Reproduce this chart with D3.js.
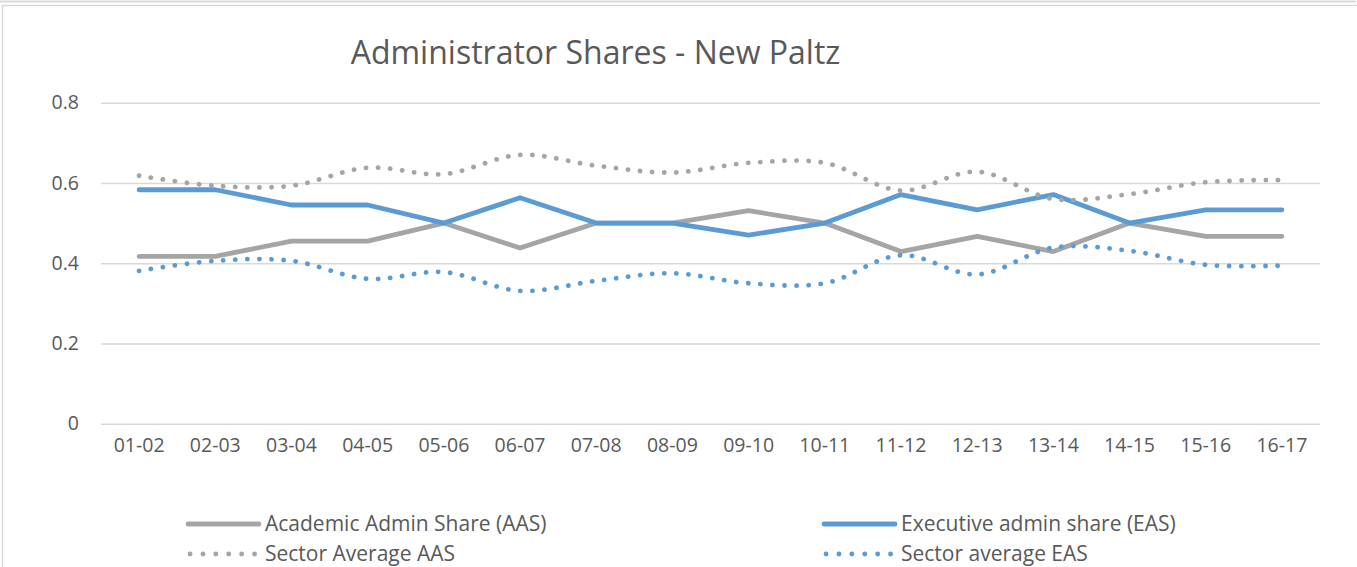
<!DOCTYPE html>
<html>
<head>
<meta charset="utf-8">
<script src="https://cdn.jsdelivr.net/npm/d3@7"></script>
<style>
    body { margin: 0; background: #fff; }
    svg { display: block; font-family: "Open Sans", "Noto Sans", sans-serif; }
    .tick text { fill: #595959; }
</style>
</head>
<body>
<svg id="chart"></svg>
<script>
// Academic years on the x axis
const years = ['01-02', '02-03', '03-04', '04-05', '05-06', '06-07', '07-08', '08-09',
    '09-10', '10-11', '11-12', '12-13', '13-14', '14-15', '15-16', '16-17'];

// Series values
const academicShare = [0.417, 0.417, 0.455, 0.455, 0.5, 0.438, 0.5, 0.5,
    0.531, 0.5, 0.429, 0.467, 0.429, 0.5, 0.467, 0.467];
const executiveShare = [0.583, 0.583, 0.545, 0.545, 0.5, 0.563, 0.5, 0.5,
    0.47, 0.5, 0.571, 0.533, 0.571, 0.5, 0.533, 0.533];
const sectorAvgAAS = [0.618, 0.593, 0.593, 0.638, 0.622, 0.67, 0.643, 0.626,
    0.65, 0.65, 0.581, 0.628, 0.56, 0.572, 0.602, 0.607];
const sectorAvgEAS = [0.381, 0.406, 0.406, 0.361, 0.378, 0.331, 0.356, 0.375,
    0.35, 0.35, 0.42, 0.372, 0.439, 0.431, 0.396, 0.394];

const yTicks = [0, 0.2, 0.4, 0.6, 0.8];

const series = [
    { name: 'Academic Admin Share (AAS)', values: academicShare, color: '#A5A5A5', dotted: false },
    { name: 'Executive admin share (EAS)', values: executiveShare, color: '#5B9BD5', dotted: false },
    { name: 'Sector Average AAS', values: sectorAvgAAS, color: '#A5A5A5', dotted: true },
    { name: 'Sector average EAS', values: sectorAvgEAS, color: '#5B9BD5', dotted: true }
];

const width = 1357, height = 567;
const plot = { left: 101, right: 1320, top: 102.7, bottom: 423.7 };

const svg = d3.select('#chart')
    .attr('width', width)
    .attr('height', height);

// frames of the chart object
svg.append('line')
    .attr('x1', 0).attr('x2', 1356).attr('y1', 1.5).attr('y2', 1.5)
    .attr('stroke', '#d9d9d9').attr('stroke-width', 2);
svg.append('rect')
    .attr('x', 2.5).attr('y', 5.5).attr('width', 1400).attr('height', 600)
    .attr('fill', 'none').attr('stroke', '#d9d9d9').attr('stroke-width', 1.5);

// scales
const x = d3.scaleBand().domain(years).range([plot.left, plot.right]).padding(0);
const y = d3.scaleLinear().domain([0, 0.8]).range([plot.bottom, plot.top]);
const cx = d => x(d) + x.bandwidth() / 2;

// y axis + gridlines
const yAxis = d3.axisLeft(y)
    .tickValues(yTicks)
    .tickFormat(d => d === 0 ? '0' : d3.format('.1f')(d))
    .tickSize(-(plot.right - plot.left))
    .tickPadding(22);

svg.append('g')
    .attr('class', 'axis y-axis')
    .attr('transform', `translate(${plot.left},0)`)
    .call(yAxis)
    .call(g => g.select('.domain').remove())
    .call(g => g.selectAll('.tick line').attr('stroke', '#d9d9d9').attr('stroke-width', 1.5))
    .call(g => g.selectAll('.tick text').attr('font-size', 19.5).attr('font-family', '"Open Sans", sans-serif'));

// x axis labels
const xAxis = d3.axisBottom(x).tickSize(0).tickPadding(14);
svg.append('g')
    .attr('class', 'axis x-axis')
    .attr('transform', `translate(0,${plot.bottom})`)
    .call(xAxis)
    .call(g => g.select('.domain').remove())
    .call(g => g.selectAll('.tick text').attr('font-size', 19.5).attr('font-family', '"Open Sans", sans-serif'));

// title
svg.append('text')
    .attr('x', 595.5)
    .attr('y', 64)
    .attr('text-anchor', 'middle')
    .attr('font-size', 32)
    .attr('fill', '#595959')
    .text('Administrator Shares - New Paltz');

// lines
const straight = d3.line()
    .x((d, i) => cx(years[i]))
    .y(d => y(d));
const smooth = d3.line()
    .x((d, i) => cx(years[i]))
    .y(d => y(d))
    .curve(d3.curveCatmullRom.alpha(0.5));

series.forEach(s => {
    svg.append('path')
        .datum(s.values)
        .attr('fill', 'none')
        .attr('stroke', s.color)
        .attr('stroke-width', 4.8)
        .attr('stroke-linecap', 'round')
        .attr('stroke-linejoin', 'round')
        .attr('stroke-dasharray', s.dotted ? '0.1 12' : null)
        .attr('d', s.dotted ? smooth : straight);
});

// legend
const legendPos = [
    { x: 188, y: 524 },
    { x: 824, y: 524 },
    { x: 190, y: 554 },
    { x: 826, y: 554 }
];

series.forEach((s, i) => {
    const p = legendPos[i];
    const g = svg.append('g').attr('transform', `translate(${p.x},${p.y})`);
    g.append('line')
        .attr('x1', 0).attr('x2', s.dotted ? 66 : 71)
        .attr('y1', 0).attr('y2', 0)
        .attr('stroke', s.color)
        .attr('stroke-width', 4.8)
        .attr('stroke-linecap', 'round')
        .attr('stroke-dasharray', s.dotted ? '0.1 12.8' : null);
    g.append('text')
        .attr('x', s.dotted ? 75 : 77)
        .attr('y', 0)
        .attr('dy', '0.35em')
        .attr('font-size', 21)
        .attr('fill', '#595959')
        .text(s.name);
});
</script>
</body>
</html>
